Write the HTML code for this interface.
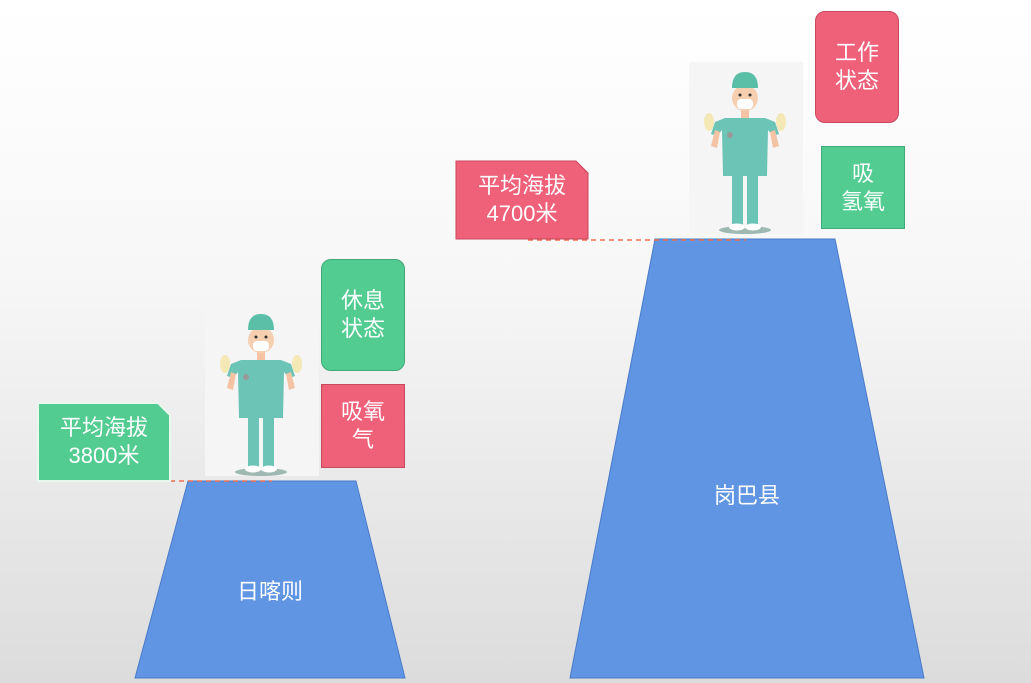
<!DOCTYPE html>
<html><head><meta charset="utf-8"><style>
body{margin:0;width:1031px;height:683px;overflow:hidden;background:linear-gradient(#fff 0%,#f7f7f7 40%,#dcdcdc 100%);font-family:"Liberation Sans","Noto Sans CJK SC",sans-serif;position:relative}
.b{position:absolute;color:#fff;font-size:22px;line-height:28px;display:flex;align-items:center;justify-content:center;text-align:center;box-sizing:border-box}
.g{background:#53cc92;border:1px solid #3fa878}
.p{background:#ef6179;border:1px solid #c8485e}
</style></head><body>
<svg width="1031" height="683" style="position:absolute;left:0;top:0">
<defs>
<g id="doc">
<rect x="-56" y="-8" width="114" height="172" fill="#f5f5f5"/>
<ellipse cx="0" cy="160" rx="26" ry="4" fill="#9fb9b2"/>
<rect x="-13" y="104" width="11" height="52" fill="#6cc4b6"/>
<rect x="2" y="104" width="11" height="52" fill="#6cc4b6"/>
<ellipse cx="-8" cy="157" rx="8" ry="3.5" fill="#fff"/>
<ellipse cx="8" cy="157" rx="8" ry="3.5" fill="#fff"/>
<path d="M-20 48 L-30 52 L-34 64 L-28 66 L-23 60 L-22 106 L22 106 L23 60 L28 66 L34 64 L30 52 L20 48 Z" fill="#6cc4b6"/>
<path d="M-30 60 L-34 76 L-28 78 L-25 62Z M30 60 L34 76 L28 78 L25 62Z" fill="#f3c3a3"/>
<ellipse cx="-36" cy="52" rx="5" ry="9" fill="#f4e8b4"/>
<ellipse cx="36" cy="52" rx="5" ry="9" fill="#f4e8b4"/>
<rect x="-4" y="40" width="8" height="8" fill="#f3c3a3"/>
<circle cx="0" cy="28" r="13" fill="#f6cfb0"/>
<path d="M-13 18 Q-13 2 0 2 Q13 2 13 18 Z" fill="#5bbfa8"/>
<rect x="-8" y="29" width="16" height="10" rx="4" fill="#fff"/>
<circle cx="-5" cy="25" r="1.5" fill="#333"/><circle cx="5" cy="25" r="1.5" fill="#333"/>
<circle cx="-15" cy="65" r="3" fill="#999"/>
</g>
</defs>
<use href="#doc" x="261" y="312"/>
<use href="#doc" x="745" y="70"/>
<polygon points="188,481 356,481 405,678 135,678" fill="#5f95e3" stroke="#4a7bc8"/>
<polygon points="655,239 835,239 924,678 570,678" fill="#5f95e3" stroke="#4a7bc8"/>
<line x1="170" y1="481" x2="272" y2="481" stroke="#f07050" stroke-width="1.5" stroke-dasharray="5,4"/>
<line x1="528" y1="240" x2="746" y2="240" stroke="#f07050" stroke-width="1.5" stroke-dasharray="5,4"/>
<polygon points="38,403 158,403 170,415 170,481 38,481" fill="#53cc92" stroke="#e8f8ee" stroke-width="2"/>
<polygon points="456,161 576,161 588,173 588,239 456,239" fill="#ef6179" stroke="#c8485e"/>
</svg>
<div class="b" style="left:38px;top:403px;width:132px;height:78px">平均海拔<br>3800米</div>
<div class="b" style="left:456px;top:161px;width:132px;height:78px">平均海拔<br>4700米</div>
<div class="b g" style="left:321px;top:259px;width:84px;height:112px;border-radius:10px">休息<br>状态</div>
<div class="b p" style="left:321px;top:384px;width:84px;height:84px">吸氧<br>气</div>
<div class="b p" style="left:815px;top:11px;width:84px;height:112px;border-radius:10px">工作<br>状态</div>
<div class="b g" style="left:821px;top:146px;width:84px;height:83px">吸<br>氢氧</div>
<div class="b" style="left:200px;top:578px;width:140px;height:28px">日喀则</div>
<div class="b" style="left:677px;top:482px;width:140px;height:28px">岗巴县</div>
</body></html>
